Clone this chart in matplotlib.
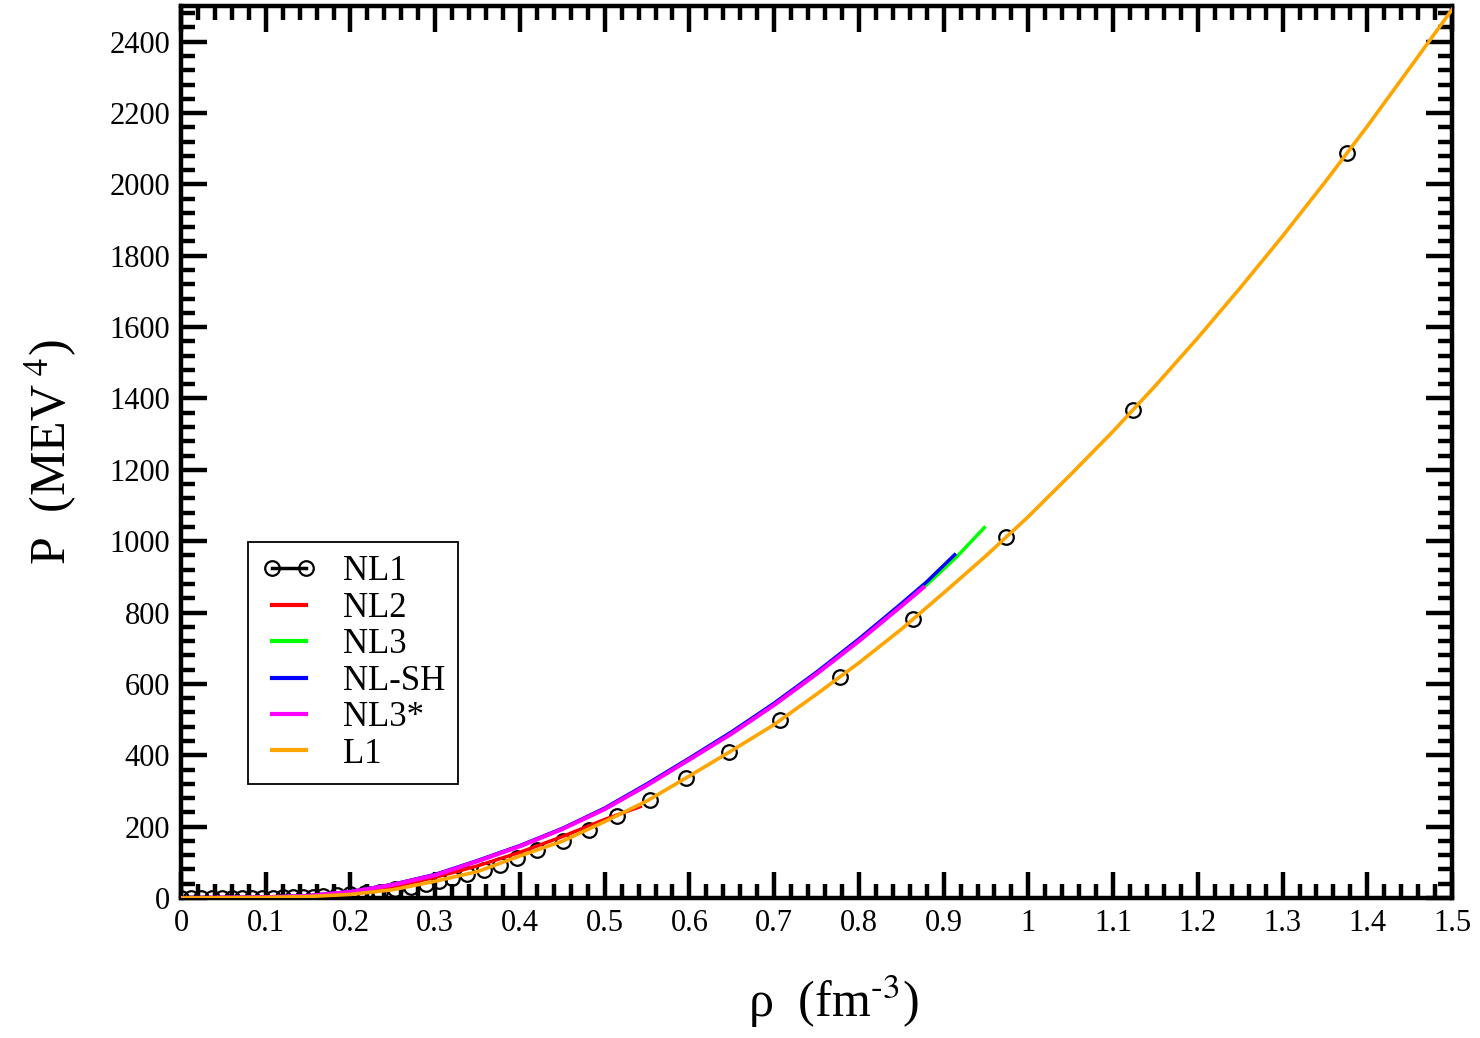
import matplotlib
matplotlib.use("Agg")
import matplotlib.pyplot as plt
from matplotlib.lines import Line2D
from matplotlib.ticker import MultipleLocator, FuncFormatter

plt.rcParams['font.family'] = ['Liberation Serif', 'DejaVu Serif']
plt.rcParams['mathtext.fontset'] = 'stix'

# NL1 (open circles)
nl1_rho = [0.0, 0.012, 0.024, 0.036, 0.048, 0.06, 0.072, 0.084, 0.096, 0.108,
           0.12, 0.132, 0.144, 0.156, 0.168, 0.184, 0.2, 0.217, 0.235, 0.253,
           0.271, 0.289, 0.304, 0.32, 0.337, 0.357, 0.376, 0.397, 0.42, 0.451,
           0.481, 0.514, 0.553, 0.596, 0.647, 0.707, 0.778, 0.864, 0.974, 1.124, 1.376]
nl1_p = [0, 0, 0, 0, 0, 0, 0.5, 0.5, 1, 1,
         1.5, 2, 3, 3.5, 5, 7, 10, 13, 18, 24,
         31, 40, 48, 57, 67, 78, 92, 112, 135, 160,
         190, 230, 276, 336, 409, 498, 619, 781, 1011, 1369, 2087]

# NL2
nl2_rho = [0.0, 0.1, 0.15, 0.2, 0.25, 0.3, 0.35, 0.4, 0.45, 0.5, 0.542]
nl2_p = [0, 2, 5, 14, 31, 58, 90, 128, 172, 220, 256]

# NL3
nl3_rho = [0.0, 0.1, 0.15, 0.2, 0.25, 0.3, 0.35, 0.4, 0.45, 0.5, 0.55, 0.6,
           0.65, 0.7, 0.75, 0.8, 0.85, 0.88, 0.915, 0.948]
nl3_p = [0, 2, 6, 17, 38, 65, 104, 146, 194, 250, 318, 390,
         463, 543, 630, 722, 820, 878, 955, 1038]

# NL-SH
nlsh_rho = [0.0, 0.1, 0.15, 0.2, 0.25, 0.3, 0.35, 0.4, 0.45, 0.5, 0.55, 0.6,
            0.65, 0.7, 0.75, 0.8, 0.85, 0.88, 0.913]
nlsh_p = [0, 2, 6, 18, 38, 66, 105, 147, 195, 252, 320, 392,
          466, 546, 633, 726, 825, 886, 962]

# NL3*
nl3s_rho = [0.0, 0.1, 0.15, 0.2, 0.25, 0.3, 0.35, 0.4, 0.45, 0.5, 0.55, 0.6,
            0.65, 0.7, 0.75, 0.8, 0.85, 0.876]
nl3s_p = [0, 2, 6, 17, 37, 64, 103, 145, 193, 249, 316, 388,
          461, 541, 628, 720, 818, 870]

# L1
l1_rho = [0.0, 0.1, 0.15, 0.2, 0.25, 0.3, 0.35, 0.4, 0.45, 0.5, 0.55, 0.6,
          0.65, 0.7, 0.75, 0.8, 0.85, 0.9, 0.95, 1.0, 1.05, 1.1, 1.15, 1.2,
          1.25, 1.3, 1.35, 1.4, 1.45, 1.5]
l1_p = [0, 1.5, 4, 10, 23, 47, 74, 118, 159, 214, 272, 342,
        413, 486, 571, 659, 753, 855, 959, 1069, 1187, 1308, 1436, 1570,
        1710, 1855, 2006, 2163, 2326, 2490]

fig = plt.figure(figsize=(14.8, 10.38), dpi=100)
ax = fig.add_axes([0.1223, 0.1349, 0.8588, 0.8593])

ax.plot(nl1_rho, nl1_p, linestyle='none', marker='o', ms=10.5, mfc='none',
        mec='black', mew=1.6, zorder=2)
ax.plot(nl2_rho, nl2_p, color='#ff0000', lw=2.5, zorder=3)
ax.plot(nl3_rho, nl3_p, color='#00ff00', lw=2.5, zorder=3)
ax.plot(nlsh_rho, nlsh_p, color='#0000ff', lw=2.5, zorder=3)
ax.plot(nl3s_rho, nl3s_p, color='#ff00ff', lw=3, zorder=3)
ax.plot(l1_rho, l1_p, color='#ffa500', lw=2.6, zorder=3)

ax.set_xlim(0, 1.5)
ax.set_ylim(0, 2500)
ax.xaxis.set_major_locator(MultipleLocator(0.1))
ax.xaxis.set_minor_locator(MultipleLocator(0.02))
ax.yaxis.set_major_locator(MultipleLocator(200))
ax.yaxis.set_minor_locator(MultipleLocator(40))
ax.xaxis.set_major_formatter(FuncFormatter(lambda v, p: f'{v:g}'))
ax.yaxis.set_major_formatter(FuncFormatter(lambda v, p: f'{v:g}'))

ax.tick_params(which='both', direction='in', top=True, right=True, width=3.2,
               labelsize=22, pad=8)
ax.tick_params(which='major', length=19)
ax.tick_params(which='minor', length=10)
for s in ax.spines.values():
    s.set_linewidth(3.2)

ax.set_xlabel('ρ  (fm$^{\u2010\\mathrm{3}}$)', fontsize=36, labelpad=14)
ax.set_ylabel(r'P  (MEV$^{\ \mathrm{4}}$)', fontsize=36, labelpad=22)
ax.xaxis.set_label_coords(0.513, -0.085)

handles = [
    Line2D([], [], color='black', lw=2.5, marker='o', ms=10.5, mfc='none', mew=1.6),
    Line2D([], [], color='#ff0000', lw=3),
    Line2D([], [], color='#00ff00', lw=3),
    Line2D([], [], color='#0000ff', lw=3),
    Line2D([], [], color='#ff00ff', lw=3),
    Line2D([], [], color='#ffa500', lw=3),
]
labels = ['NL1', 'NL2', 'NL3', 'NL-SH', 'NL3*', 'L1']
leg = ax.legend(handles, labels, loc='lower left', bbox_to_anchor=(0.0527, 0.128),
                fontsize=25, numpoints=2, handlelength=1.6, handletextpad=0.75,
                labelspacing=0.1, borderpad=0.38, borderaxespad=0,
                fancybox=False, frameon=True)
leg.get_frame().set_edgecolor('black')
leg.get_frame().set_linewidth(1.3)
leg.get_frame().set_alpha(1)

fig.savefig('out.png', dpi=100)
